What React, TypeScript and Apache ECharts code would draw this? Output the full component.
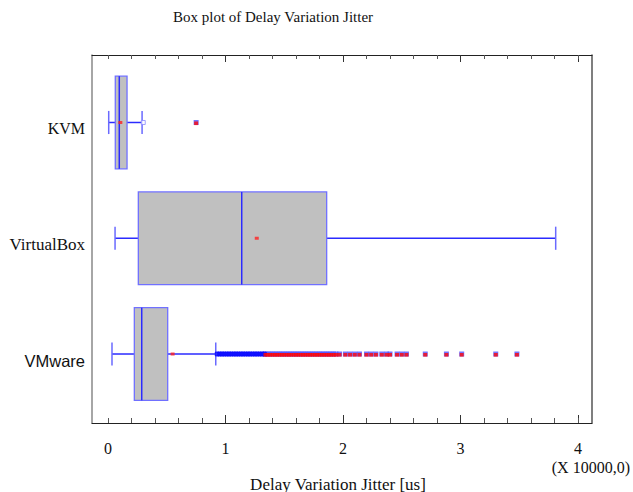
import React, { useEffect, useRef } from 'react';
import * as echarts from 'echarts';

const categories = ['KVM', 'VirtualBox', 'VMware'];
const whiskerLow = [0.006, 0.06, 0.034];
const q1 = [0.062, 0.258, 0.224];
const median = [0.096, 1.138, 0.287];
const q3 = [0.162, 1.861, 0.508];
const whiskerHigh = [0.29, 3.81, 0.917];
const means = [0.105, 1.266, 0.55];

const kvmOutside = [0.3];
const kvmFarOutside = [0.75];
const vmwareOutside = [
  0.93, 0.95, 0.97, 0.99, 1.01, 1.03, 1.05, 1.07, 1.09, 1.11, 1.13, 1.15, 1.17,
  1.19, 1.21, 1.23, 1.25, 1.27, 1.29, 1.31, 1.33,
];
const vmwareFarOutside = [
  1.34, 1.36, 1.38, 1.4, 1.42, 1.44, 1.46, 1.48, 1.5, 1.52, 1.54, 1.56, 1.58,
  1.6, 1.62, 1.64, 1.66, 1.68, 1.7, 1.72, 1.74, 1.76, 1.78, 1.8, 1.82, 1.84,
  1.86, 1.88, 1.9, 1.92, 1.94, 1.97, 2.02, 2.06, 2.1, 2.14, 2.2, 2.24, 2.28,
  2.33, 2.37, 2.4, 2.46, 2.5, 2.54, 2.7, 2.88, 3.01, 3.3, 3.48,
];

const tickLabels = [0, 1, 2, 3, 4];
const majorTicks = [1, 2, 3, 4];
const minorTicks = [
  0, 0.2, 0.4, 0.6, 0.8, 1.2, 1.4, 1.6, 1.8, 2.2, 2.4, 2.6, 2.8, 3.2, 3.4, 3.6,
  3.8, 4.0,
];

const X_MIN = -0.1362;
const X_MAX = 4.119;
const Y_MIN = -0.583;
const Y_MAX = 2.596;

const SERIF = 'Liberation Serif';
const SANS = 'Liberation Sans';

export default function App() {
  const ref = useRef<HTMLDivElement>(null);
  useEffect(() => {
    if (!ref.current) return;
    const chart = echarts.init(ref.current, undefined, { renderer: 'svg' });

    const baseX = {
      type: 'value',
      min: X_MIN,
      max: X_MAX,
      gridIndex: 0,
      splitLine: { show: false },
    };

    const farData = [
      ...kvmFarOutside.map((v) => [v, 0]),
      ...vmwareFarOutside.map((v) => [v, 2]),
    ];

    const option: any = {
      animation: false,
      backgroundColor: '#ffffff',
      grid: { left: 92, top: 55, width: 500, height: 368, containLabel: false },
      xAxis: [
        {
          ...baseX,
          position: 'bottom',
          axisLine: { show: true, onZero: false, lineStyle: { color: '#222', width: 1 } },
          axisTick: {
            show: true,
            inside: true,
            length: 8,
            customValues: majorTicks,
            lineStyle: { color: '#333' },
          },
          axisLabel: {
            show: true,
            customValues: tickLabels,
            margin: 17,
            fontFamily: SERIF,
            fontSize: 16,
            color: '#111',
          },
        },
        {
          ...baseX,
          position: 'bottom',
          axisLine: { show: false, onZero: false },
          axisTick: {
            show: true,
            inside: true,
            length: 5,
            customValues: minorTicks,
            lineStyle: { color: '#555' },
          },
          axisLabel: { show: false },
        },
        {
          ...baseX,
          position: 'top',
          axisLine: { show: true, onZero: false, lineStyle: { color: '#222', width: 1 } },
          axisTick: {
            show: true,
            inside: true,
            length: 7,
            customValues: majorTicks,
            lineStyle: { color: '#333' },
          },
          axisLabel: { show: false },
        },
        {
          ...baseX,
          position: 'top',
          axisLine: { show: false, onZero: false },
          axisTick: {
            show: true,
            inside: true,
            length: 4,
            customValues: minorTicks,
            lineStyle: { color: '#555' },
          },
          axisLabel: { show: false },
        },
      ],
      yAxis: [
        {
          type: 'value',
          inverse: true,
          min: Y_MIN,
          max: Y_MAX,
          position: 'left',
          splitLine: { show: false },
          axisLine: { show: true, onZero: false, lineStyle: { color: '#888', width: 1.5 } },
          axisTick: { show: false },
          axisLabel: {
            show: true,
            customValues: [0, 1, 2],
            margin: 7,
            padding: [13, 0, 0, 0],
            formatter: (v: number) => {
              const i = Math.round(v);
              if (i === 2) return `{sans|${categories[i]}}`;
              if (i === 1) return `{serifL|${categories[i]}}`;
              return `{serif|${categories[i]}}`;
            },
            rich: {
              serif: { fontFamily: SERIF, fontSize: 16, color: '#111' },
              serifL: { fontFamily: SERIF, fontSize: 17, color: '#111' },
              sans: { fontFamily: SANS, fontSize: 16.5, color: '#111' },
            },
          },
        },
        {
          type: 'value',
          inverse: true,
          min: Y_MIN,
          max: Y_MAX,
          position: 'right',
          splitLine: { show: false },
          axisLine: { show: true, onZero: false, lineStyle: { color: '#555', width: 1.5 } },
          axisTick: { show: false },
          axisLabel: { show: false },
        },
      ],
      series: [
        {
          type: 'custom',
          xAxisIndex: 0,
          yAxisIndex: 0,
          encode: { x: [1, 2, 3, 4, 5], y: 0 },
          data: categories.map((c, i) => [
            i,
            whiskerLow[i],
            q1[i],
            median[i],
            q3[i],
            whiskerHigh[i],
          ]),
          renderItem: (params: any, api: any) => {
            const cat = api.value(0);
            const pLo = api.coord([api.value(1), cat]);
            const pQ1 = api.coord([api.value(2), cat]);
            const pMed = api.coord([api.value(3), cat]);
            const pQ3 = api.coord([api.value(4), cat]);
            const pHi = api.coord([api.value(5), cat]);
            const y = pLo[1];
            const half = Math.abs(api.size([0, 0.4])[1]);
            const cap = Math.abs(api.size([0, 0.1])[1]);
            const whiskerStyle = { stroke: '#2b2bff', lineWidth: 1.5 };
            const capStyle = { stroke: '#6a6aff', lineWidth: 1.5 };
            return {
              type: 'group',
              children: [
                {
                  type: 'line',
                  shape: { x1: pLo[0], y1: y, x2: pQ1[0], y2: y },
                  style: whiskerStyle,
                },
                {
                  type: 'line',
                  shape: { x1: pQ3[0], y1: y, x2: pHi[0], y2: y },
                  style: whiskerStyle,
                },
                {
                  type: 'line',
                  shape: { x1: pLo[0], y1: y - cap, x2: pLo[0], y2: y + cap },
                  style: capStyle,
                },
                {
                  type: 'line',
                  shape: { x1: pHi[0], y1: y - cap, x2: pHi[0], y2: y + cap },
                  style: capStyle,
                },
                {
                  type: 'rect',
                  shape: {
                    x: pQ1[0],
                    y: y - half,
                    width: pQ3[0] - pQ1[0],
                    height: half * 2,
                  },
                  style: { fill: '#c0c0c0', stroke: '#7070ff', lineWidth: 1.3 },
                },
                {
                  type: 'line',
                  shape: { x1: pMed[0], y1: y - half, x2: pMed[0], y2: y + half },
                  style: { stroke: '#2b2bff', lineWidth: 1.5 },
                },
              ],
            };
          },
          z: 2,
        },
        {
          type: 'scatter',
          name: 'mean',
          xAxisIndex: 0,
          yAxisIndex: 0,
          symbol: 'rect',
          symbolSize: [4, 3],
          itemStyle: { color: '#ff2020' },
          data: categories.map((c, i) => [means[i], i]),
          z: 5,
        },
        {
          type: 'scatter',
          name: 'outside',
          xAxisIndex: 0,
          yAxisIndex: 0,
          symbol: 'rect',
          symbolSize: 4,
          itemStyle: { color: '#0a0aff', borderColor: '#0a0aff', borderWidth: 1 },
          data: [
            ...kvmOutside.map((v) => ({
              value: [v, 0],
              itemStyle: { color: '#ffffff', borderColor: '#8a8aff' },
            })),
            ...vmwareOutside.map((v) => [v, 2]),
          ],
          z: 4,
        },
        {
          type: 'scatter',
          name: 'far outside frame',
          xAxisIndex: 0,
          yAxisIndex: 0,
          symbol: 'rect',
          symbolSize: 5,
          itemStyle: { color: '#5050ff' },
          data: farData,
          z: 3,
        },
        {
          type: 'scatter',
          name: 'far outside',
          xAxisIndex: 0,
          yAxisIndex: 0,
          symbol: 'rect',
          symbolSize: [4, 3.6],
          symbolOffset: [0, 0.8],
          itemStyle: { color: '#ff0808' },
          data: farData,
          z: 4,
        },
      ],
      graphic: [
        {
          type: 'text',
          x: 273,
          y: 17,
          style: {
            text: 'Box plot of Delay Variation Jitter',
            align: 'center',
            verticalAlign: 'middle',
            fontFamily: SERIF,
            fontSize: 15,
            fill: '#111',
          },
        },
        {
          type: 'text',
          x: 338,
          y: 484,
          style: {
            text: 'Delay Variation Jitter [us]',
            align: 'center',
            verticalAlign: 'middle',
            fontFamily: SERIF,
            fontSize: 17,
            fill: '#111',
          },
        },
        {
          type: 'text',
          x: 630,
          y: 467,
          style: {
            text: '(X 10000,0)',
            align: 'right',
            verticalAlign: 'middle',
            fontFamily: SERIF,
            fontSize: 16,
            fill: '#111',
          },
        },
      ],
    };

    chart.setOption(option);
    return () => chart.dispose();
  }, []);

  return (
    <div
      ref={ref}
      style={{ position: 'fixed', left: 0, top: 0, width: 633, height: 492 }}
    />
  );
}
